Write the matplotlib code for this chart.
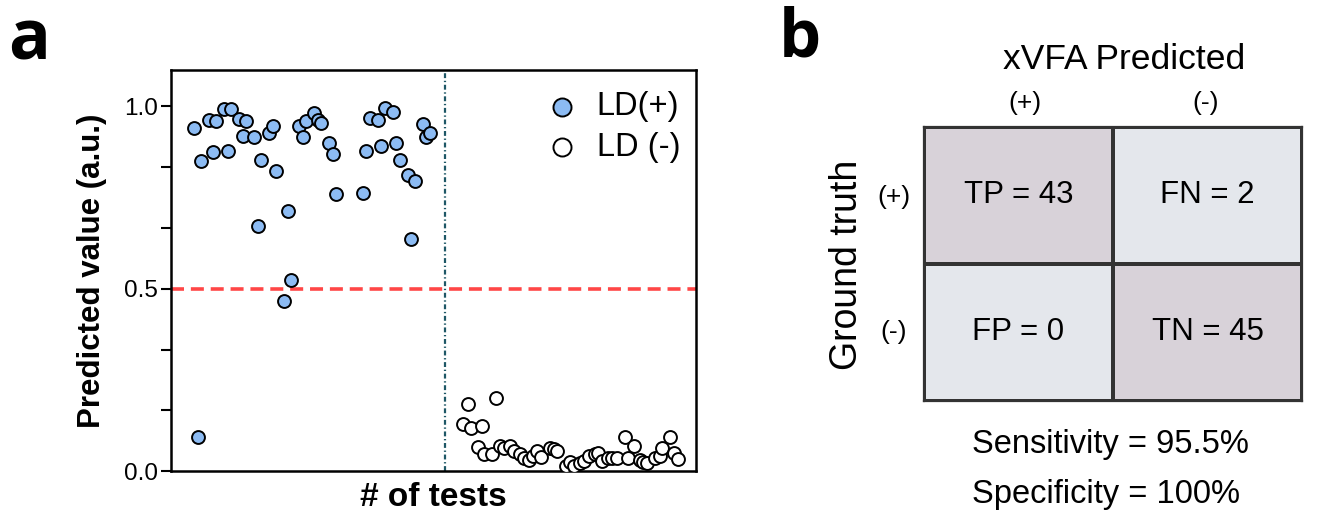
import numpy as np
import matplotlib
matplotlib.use("Agg")
import matplotlib.pyplot as plt
from matplotlib.colors import ListedColormap

plt.rcParams["font.family"] = ["Liberation Sans", "DejaVu Sans"]

# LD(+) samples: test index and predicted value
pos_x = [1, 2, 3, 5, 6, 7, 9, 10, 11, 13, 14, 15, 17, 18, 19, 21, 22, 23,
         25, 26, 27, 29, 30, 31, 33, 34, 35, 37, 38, 39, 46, 47, 48, 50, 51,
         52, 54, 55, 56, 58, 59, 60, 62, 63, 64]
pos_y = [0.940, 0.093, 0.850, 0.962, 0.875, 0.959, 0.994, 0.879, 0.994, 0.965,
         0.920, 0.960, 0.917, 0.671, 0.854, 0.927, 0.947, 0.822, 0.466, 0.712,
         0.524, 0.947, 0.915, 0.960, 0.983, 0.963, 0.955, 0.901, 0.871, 0.761,
         0.764, 0.879, 0.969, 0.962, 0.892, 0.996, 0.986, 0.900, 0.854, 0.813,
         0.637, 0.796, 0.951, 0.915, 0.928]

# LD(-) samples
neg_x = [72.9, 74.0, 74.9, 76.9, 77.8, 78.3, 80.4, 81.6, 82.7, 83.8, 85.4, 86.4,
         88.0, 89.1, 90.5, 91.5, 92.6, 93.6, 96.0, 97.1, 98.0, 100.4, 101.4,
         102.3, 104.0, 105.2, 106.3, 108.0, 108.9, 109.8, 111.6, 112.5, 113.8,
         116.1, 116.9, 118.3, 120.1, 120.9, 121.9, 124.1, 125.4, 125.9, 128.1,
         129.0, 130.1]
neg_y = [0.130, 0.183, 0.119, 0.066, 0.124, 0.048, 0.046, 0.201, 0.069, 0.062,
         0.069, 0.055, 0.046, 0.037, 0.030, 0.040, 0.055, 0.039, 0.062, 0.060,
         0.055, 0.014, 0.025, 0.014, 0.023, 0.027, 0.041, 0.046, 0.050, 0.027,
         0.037, 0.037, 0.037, 0.092, 0.037, 0.069, 0.030, 0.025, 0.021, 0.037,
         0.041, 0.064, 0.092, 0.050, 0.034]

threshold = 0.5
split_x = 67.9

# confusion matrix
cm_labels = [["TP = 43", "FN = 2"], ["FP = 0", "TN = 45"]]
cm_correct = np.array([[1, 0], [0, 1]])
class_labels = ["(+)", "(-)"]
metrics = ["Sensitivity = 95.5%", "Specificity = 100%"]

fig = plt.figure(figsize=(13.23, 5.15), dpi=100)

# ---- panel a ----
ax = fig.add_axes([0.1296, 0.0854, 0.3966, 0.7786])
ax.axhline(threshold, color="#FF4646", lw=2.6, ls=(0, (3.6, 1.9)), zorder=1)
ax.axvline(split_x, color="#1E5766", lw=1.6, ls=(0, (2.2, 1.2, 0.6, 1.2)), zorder=1)
ax.scatter(pos_x, pos_y, s=86, facecolor="#8CBBF3", edgecolor="black",
           linewidth=1.4, zorder=3, label="LD(+)")
ax.scatter(neg_x, neg_y, s=86, facecolor="white", edgecolor="black",
           linewidth=1.4, zorder=3, label="LD (-)")

ax.set_xlim(-5, 135)
ax.set_ylim(0, 1.1)
ax.set_xticks([])
ax.set_yticks([0, 0.5, 1.0])
ax.set_yticklabels(["0.0", "0.5", "1.0"])
ax.set_yticks(np.arange(0, 1.01, 1 / 6), minor=True)
ax.tick_params(axis="y", which="both", length=7, width=1.5, labelsize=17.5, pad=3)
for sp in ax.spines.values():
    sp.set_linewidth(1.8)

ax.set_ylabel("Predicted value (a.u.)", fontsize=22.5, fontweight="bold", labelpad=12)
ax.set_xlabel("# of tests", fontsize=24, fontweight="bold", labelpad=8)

ax.legend(loc="upper right", frameon=False, fontsize=23.5, markerscale=1.4,
          handletextpad=0.05, borderpad=0.15, labelspacing=0.3,
          bbox_to_anchor=(1.01, 1.0))

fig.text(0.006, 0.885, "a", fontsize=50, fontweight="bold",
         family=["Open Sans", "DejaVu Sans"])

# ---- panel b ----
ax2 = fig.add_axes([0.6984, 0.2214, 0.2857, 0.532])
ax2.pcolormesh(cm_correct, cmap=ListedColormap(["#E4E7EC", "#D8D2D9"]),
               edgecolors="#333333", linewidth=1.6)
ax2.set_xlim(0, 2)
ax2.set_ylim(2, 0)
ax2.set_xticks([])
ax2.set_yticks([])
for sp in ax2.spines.values():
    sp.set_linewidth(1.6)
    sp.set_color("#333333")

for i in range(2):
    for j in range(2):
        ax2.text(j + 0.5, i + 0.5, cm_labels[i][j], ha="center", va="center",
                 fontsize=22.5)

col_x = [0.267, 0.746]
row_y = [0.745, 0.252]
for k, lab in enumerate(class_labels):
    ax2.text(col_x[k], 1.088, lab, transform=ax2.transAxes, ha="center",
             va="center", fontsize=19)
    ax2.text(-0.079, row_y[k], lab, transform=ax2.transAxes, ha="center",
             va="center", fontsize=19)

ax2.text(0.53, 1.245, "xVFA Predicted", transform=ax2.transAxes,
         ha="center", va="center", fontsize=25.5)
ax2.text(-0.204, 0.496, "Ground truth", transform=ax2.transAxes,
         ha="center", va="center", rotation=90, fontsize=27)
ax2.text(0.127, -0.16, metrics[0], transform=ax2.transAxes,
         ha="left", va="center", fontsize=23.5)
ax2.text(0.127, -0.343, metrics[1], transform=ax2.transAxes,
         ha="left", va="center", fontsize=23.5)

fig.text(0.589, 0.89, "b", fontsize=48, fontweight="bold",
         family=["Open Sans", "DejaVu Sans"])

fig.savefig("out.png", dpi=100)
